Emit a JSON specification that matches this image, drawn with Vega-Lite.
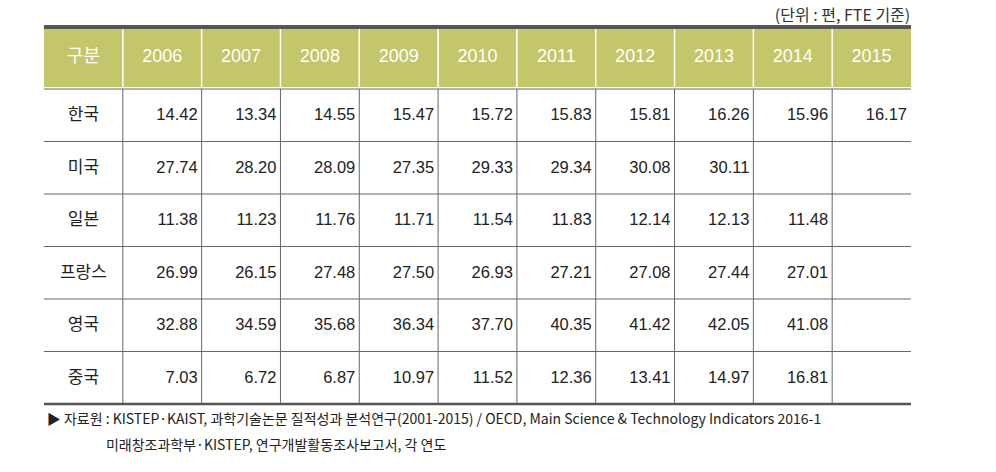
{
  "$schema": "https://vega.github.io/schema/vega-lite/v6.json",
  "padding": {"left": 42, "top": 7, "right": 5, "bottom": 5},
  "background": "white",
  "spacing": 0,
  "config": {"view": {"stroke": null}, "concat": {"spacing": 0}},
  "title": {"text": "(단위 : 편, FTE 기준)", "anchor": "end", "fontSize": 16, "fontWeight": "normal", "font": "Noto Sans CJK KR", "color": "#333", "offset": 2, "dx": -2},
  "datasets": {
    "cols": [
      {"col": "구분"}, {"col": "2006"}, {"col": "2007"}, {"col": "2008"}, {"col": "2009"}, {"col": "2010"},
      {"col": "2011"}, {"col": "2012"}, {"col": "2013"}, {"col": "2014"}, {"col": "2015"}
    ],
    "countries": [
      {"country": "한국"}, {"country": "미국"}, {"country": "일본"}, {"country": "프랑스"}, {"country": "영국"}, {"country": "중국"}
    ],
    "cells": [
      {"country": "한국", "col": "2006", "value": 14.42}, {"country": "한국", "col": "2007", "value": 13.34}, {"country": "한국", "col": "2008", "value": 14.55}, {"country": "한국", "col": "2009", "value": 15.47}, {"country": "한국", "col": "2010", "value": 15.72}, {"country": "한국", "col": "2011", "value": 15.83}, {"country": "한국", "col": "2012", "value": 15.81}, {"country": "한국", "col": "2013", "value": 16.26}, {"country": "한국", "col": "2014", "value": 15.96}, {"country": "한국", "col": "2015", "value": 16.17},
      {"country": "미국", "col": "2006", "value": 27.74}, {"country": "미국", "col": "2007", "value": 28.20}, {"country": "미국", "col": "2008", "value": 28.09}, {"country": "미국", "col": "2009", "value": 27.35}, {"country": "미국", "col": "2010", "value": 29.33}, {"country": "미국", "col": "2011", "value": 29.34}, {"country": "미국", "col": "2012", "value": 30.08}, {"country": "미국", "col": "2013", "value": 30.11},
      {"country": "일본", "col": "2006", "value": 11.38}, {"country": "일본", "col": "2007", "value": 11.23}, {"country": "일본", "col": "2008", "value": 11.76}, {"country": "일본", "col": "2009", "value": 11.71}, {"country": "일본", "col": "2010", "value": 11.54}, {"country": "일본", "col": "2011", "value": 11.83}, {"country": "일본", "col": "2012", "value": 12.14}, {"country": "일본", "col": "2013", "value": 12.13}, {"country": "일본", "col": "2014", "value": 11.48},
      {"country": "프랑스", "col": "2006", "value": 26.99}, {"country": "프랑스", "col": "2007", "value": 26.15}, {"country": "프랑스", "col": "2008", "value": 27.48}, {"country": "프랑스", "col": "2009", "value": 27.50}, {"country": "프랑스", "col": "2010", "value": 26.93}, {"country": "프랑스", "col": "2011", "value": 27.21}, {"country": "프랑스", "col": "2012", "value": 27.08}, {"country": "프랑스", "col": "2013", "value": 27.44}, {"country": "프랑스", "col": "2014", "value": 27.01},
      {"country": "영국", "col": "2006", "value": 32.88}, {"country": "영국", "col": "2007", "value": 34.59}, {"country": "영국", "col": "2008", "value": 35.68}, {"country": "영국", "col": "2009", "value": 36.34}, {"country": "영국", "col": "2010", "value": 37.70}, {"country": "영국", "col": "2011", "value": 40.35}, {"country": "영국", "col": "2012", "value": 41.42}, {"country": "영국", "col": "2013", "value": 42.05}, {"country": "영국", "col": "2014", "value": 41.08},
      {"country": "중국", "col": "2006", "value": 7.03}, {"country": "중국", "col": "2007", "value": 6.72}, {"country": "중국", "col": "2008", "value": 6.87}, {"country": "중국", "col": "2009", "value": 10.97}, {"country": "중국", "col": "2010", "value": 11.52}, {"country": "중국", "col": "2011", "value": 12.36}, {"country": "중국", "col": "2012", "value": 13.41}, {"country": "중국", "col": "2013", "value": 14.97}, {"country": "중국", "col": "2014", "value": 16.81}
    ]
  },
  "vconcat": [
    {
      "width": 867,
      "height": 60,
      "data": {"name": "cols"},
      "layer": [
        {
          "mark": {"type": "rect", "fill": "#C3C66A"},
          "encoding": {
            "x": {"field": "col", "type": "nominal", "sort": null, "axis": null, "scale": {"domain": ["구분", "2006", "2007", "2008", "2009", "2010", "2011", "2012", "2013", "2014", "2015"], "paddingInner": 0, "paddingOuter": 0}}
          }
        },
        {
          "transform": [{"filter": "datum.col !== '구분'"}],
          "mark": {"type": "rule", "color": "white", "strokeWidth": 1.5},
          "encoding": {
            "x": {"field": "col", "type": "nominal", "sort": null, "axis": null, "bandPosition": 0, "scale": {"domain": ["구분", "2006", "2007", "2008", "2009", "2010", "2011", "2012", "2013", "2014", "2015"], "paddingInner": 0, "paddingOuter": 0}}
          }
        },
        {
          "mark": {"type": "text", "color": "white", "fontSize": 18, "font": "Liberation Sans, Noto Sans CJK KR"},
          "encoding": {
            "x": {"field": "col", "type": "nominal", "sort": null, "axis": null, "scale": {"domain": ["구분", "2006", "2007", "2008", "2009", "2010", "2011", "2012", "2013", "2014", "2015"], "paddingInner": 0, "paddingOuter": 0}},
            "text": {"field": "col"}
          }
        },
        {
          "mark": {"type": "rule", "color": "#555555", "strokeWidth": 2.5},
          "encoding": {
            "y": {"datum": "top", "type": "nominal", "bandPosition": 0, "axis": null, "scale": {"domain": ["top"], "paddingInner": 0, "paddingOuter": 0}}
          }
        }
      ]
    },
    {
      "width": 867,
      "height": 315,
      "title": {
        "text": ["▶ 자료원 : KISTEP·KAIST, 과학기술논문 질적성과 분석연구(2001-2015) / OECD, Main Science & Technology Indicators 2016-1", "​　　　　 미래창조과학부·KISTEP, 연구개발활동조사보고서, 각 연도"],
        "orient": "bottom",
        "anchor": "start",
        "align": "left",
        "fontSize": 14,
        "fontWeight": "normal",
        "font": "Noto Sans CJK KR",
        "color": "#222",
        "lineHeight": 26,
        "offset": 8,
        "dx": 4
      },
      "layer": [
        {
          "data": {"name": "countries"},
          "mark": {"type": "rule", "color": "#666666", "strokeWidth": 1},
          "encoding": {
            "y": {"field": "country", "type": "nominal", "sort": null, "axis": null, "bandPosition": 0, "scale": {"domain": ["한국", "미국", "일본", "프랑스", "영국", "중국"], "paddingInner": 0, "paddingOuter": 0}}
          }
        },
        {
          "data": {"name": "cols"},
          "transform": [{"filter": "datum.col !== '구분'"}],
          "mark": {"type": "rule", "color": "#666666", "strokeWidth": 1},
          "encoding": {
            "x": {"field": "col", "type": "nominal", "sort": null, "axis": null, "bandPosition": 0, "scale": {"domain": ["구분", "2006", "2007", "2008", "2009", "2010", "2011", "2012", "2013", "2014", "2015"], "paddingInner": 0, "paddingOuter": 0}}
          }
        },
        {
          "data": {"name": "countries"},
          "transform": [{"filter": "datum.country === '중국'"}],
          "mark": {"type": "rule", "color": "#555555", "strokeWidth": 2.5},
          "encoding": {
            "y": {"field": "country", "type": "nominal", "sort": null, "axis": null, "bandPosition": 1, "scale": {"domain": ["한국", "미국", "일본", "프랑스", "영국", "중국"], "paddingInner": 0, "paddingOuter": 0}}
          }
        },
        {
          "data": {"name": "countries"},
          "mark": {"type": "text", "color": "#222", "fontSize": 17, "font": "Noto Sans CJK KR"},
          "encoding": {
            "x": {"datum": "구분", "type": "nominal", "axis": null, "scale": {"domain": ["구분", "2006", "2007", "2008", "2009", "2010", "2011", "2012", "2013", "2014", "2015"], "paddingInner": 0, "paddingOuter": 0}},
            "y": {"field": "country", "type": "nominal", "sort": null, "axis": null, "scale": {"domain": ["한국", "미국", "일본", "프랑스", "영국", "중국"], "paddingInner": 0, "paddingOuter": 0}},
            "text": {"field": "country"}
          }
        },
        {
          "data": {"name": "cells"},
          "mark": {"type": "text", "color": "#222", "fontSize": 16.5, "font": "Liberation Sans", "align": "right", "dx": -4},
          "encoding": {
            "x": {"field": "col", "type": "nominal", "sort": null, "axis": null, "bandPosition": 1, "scale": {"domain": ["구분", "2006", "2007", "2008", "2009", "2010", "2011", "2012", "2013", "2014", "2015"], "paddingInner": 0, "paddingOuter": 0}},
            "y": {"field": "country", "type": "nominal", "sort": null, "axis": null, "scale": {"domain": ["한국", "미국", "일본", "프랑스", "영국", "중국"], "paddingInner": 0, "paddingOuter": 0}},
            "text": {"field": "value", "type": "quantitative", "format": ".2f"}
          }
        }
      ]
    }
  ]
}
